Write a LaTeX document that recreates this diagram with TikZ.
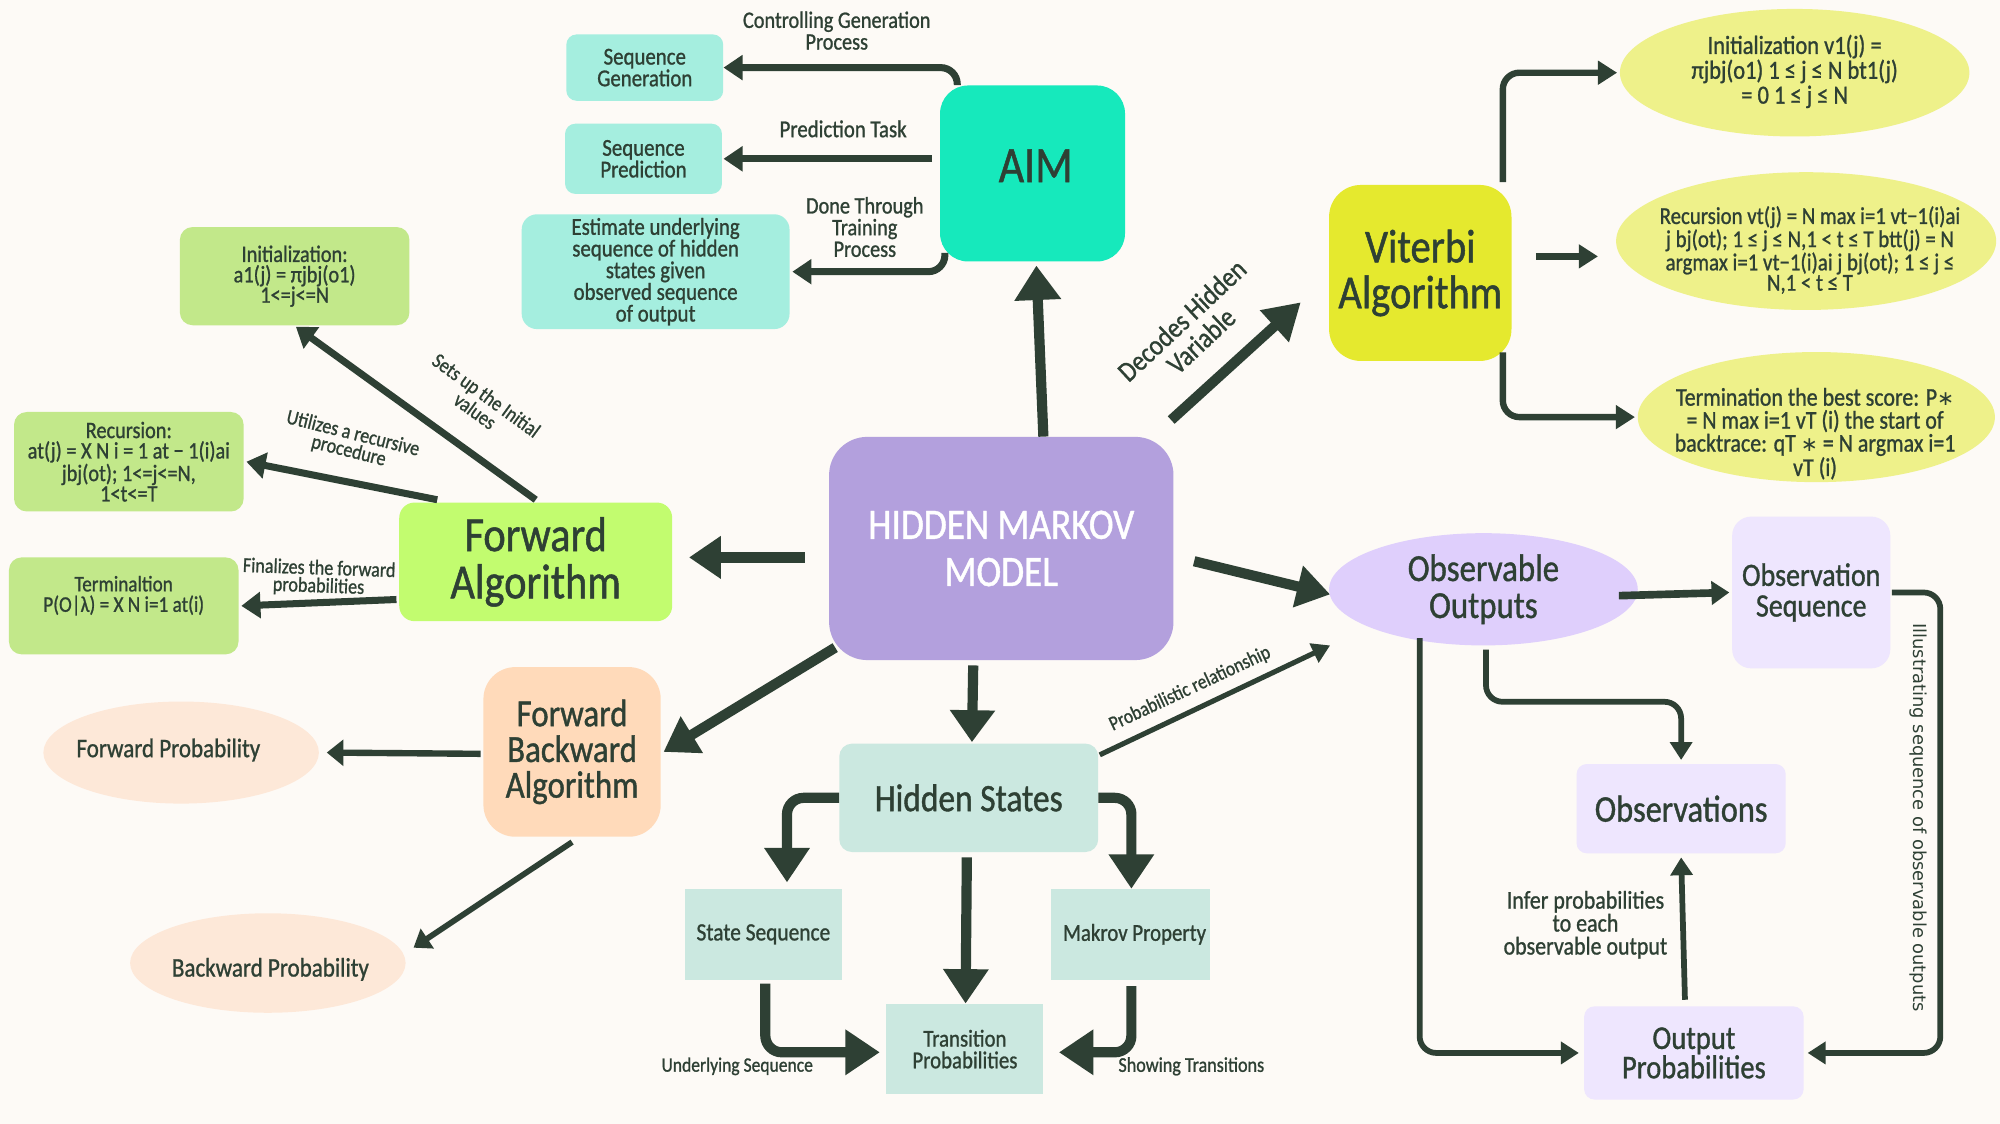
\documentclass[tikz,border=0pt]{standalone}
\usepackage{fontspec}
\setmainfont{Carlito}[FakeStretch=0.86,FakeBold=1]
\newfontfamily\ilfont{DejaVu Sans}
\usetikzlibrary{arrows.meta,shapes.geometric,calc}
\definecolor{bgc}{HTML}{FDFAF6}
\definecolor{ink}{HTML}{2E4034}
\definecolor{hmmc}{HTML}{B3A0DD}
\definecolor{aimc}{HTML}{16E9BC}
\definecolor{aimsub}{HTML}{A5EEDF}
\definecolor{vitc}{HTML}{E5E92E}
\definecolor{vitsub}{HTML}{EEF18A}
\definecolor{fwdc}{HTML}{C2FC6F}
\definecolor{fwdsub}{HTML}{C2E88A}
\definecolor{fbc}{HTML}{FFDABA}
\definecolor{fbsub}{HTML}{FDE8D8}
\definecolor{hsc}{HTML}{CBE8E0}
\definecolor{ooc}{HTML}{DFCFFC}
\definecolor{oosub}{HTML}{EEE6FE}
\newcommand\fsz[2]{\fontsize{#1pt}{#2pt}\selectfont}
\begin{document}
\begin{tikzpicture}[x=1pt,y=-1pt,
  box/.style={inner sep=0pt, align=center, text=ink, rounded corners=#1},
  box/.default=10pt,
  oval/.style={ellipse, inner sep=0pt, align=center, text=ink},
  lbl/.style={inner sep=0pt, align=center, text=ink},
  arr/.style n args={3}{draw=ink, line width=#1, -{Triangle[length=#2,width=#3]}},
  elbow/.style={rounded corners=13pt}
]
\fill[bgc] (0,0) rectangle (1568,881);
\useasboundingbox (0,0) rectangle (1568,881);

% ---------- central node
\node[box=30pt, fill=hmmc, minimum width=270pt, minimum height=175pt, text=white, font=\fsz{34}{37}] (hmm) at (785,430) {HIDDEN MARKOV\\MODEL};

% ---------- AIM branch
\node[box=22pt, fill=aimc, minimum width=145pt, minimum height=138pt] (aim) at (809.5,136) {};
\node[lbl, font=\fsz{40}{40}] (aimt) at (812,130) {AIM};
\node[box=8pt, fill=aimsub, minimum width=123pt, minimum height=52pt, font=\fsz{19}{17}] (seqgen) at (505.5,53) {Sequence\\Generation};
\node[box=8pt, fill=aimsub, minimum width=123pt, minimum height=55pt, font=\fsz{19}{17}] (seqpred) at (504.5,124.5) {Sequence\\Prediction};
\node[box=12pt, fill=aimsub, minimum width=210pt, minimum height=90pt, font=\fsz{19}{17}] (est) at (514,213) {Estimate underlying\\sequence of hidden\\states given\\observed sequence\\of output};

% ---------- Viterbi branch
\node[box=25pt, fill=vitc, minimum width=143pt, minimum height=138pt, font=\fsz{37}{36}] (vit) at (1113.5,214) {Viterbi\\Algorithm};
\node[oval, fill=vitsub, minimum width=274pt, minimum height=100pt] (e1) at (1407,57) {};
\node[lbl, font=\fsz{20.5}{19.5}] (e1t) at (1407,56) {Initialization v1(j) =\\πjbj(o1) 1 ≤ j ≤ N bt1(j)\\= 0 1 ≤ j ≤ N};
\node[oval, fill=vitsub, minimum width=298pt, minimum height=108pt] (e2) at (1416,189) {};
\node[lbl, font=\fsz{19}{16}] (e2t) at (1419,196) {Recursion vt(j) = N max i=1 vt−1(i)ai\\j bj(ot); 1 ≤ j ≤ N,1 < t ≤ T btt(j) = N\\argmax i=1 vt−1(i)ai j bj(ot); 1 ≤ j ≤\\N,1 < t ≤ T};
\node[oval, fill=vitsub, minimum width=280pt, minimum height=102pt] (e3) at (1424,327) {};
\node[lbl, font=\fsz{20}{18}] (e3t) at (1423,340) {Termination the best score: P{\ilfont\fsz{16}{18}∗}\\= N max i=1 vT (i) the start of\\backtrace: qT {\ilfont\fsz{16}{18}∗} = N argmax i=1\\vT (i)};

% ---------- Forward algorithm branch
\node[box=12pt, fill=fwdc, minimum width=214pt, minimum height=93pt, font=\fsz{38.5}{37}] (fwd) at (420,440.5) {Forward\\Algorithm};
\node[box=10pt, fill=fwdsub, minimum width=180pt, minimum height=77pt, font=\fsz{18.5}{16}] (init) at (231,216.5) {Initialization:\\a1(j) = πjbj(o1)\\1<=j<=N};
\node[box=10pt, fill=fwdsub, minimum width=180pt, minimum height=78pt, font=\fsz{18.5}{16}] (rec) at (101,362) {Recursion:\\at(j) = X N i = 1 at − 1(i)ai\\jbj(ot); 1<=j<=N,\\1<t<=T};
\node[box=10pt, fill=fwdsub, minimum width=180pt, minimum height=76pt] (term) at (97,475) {};
\node[lbl, font=\fsz{17.5}{16}] (termt) at (97,467) {Terminaltion\\P(O|λ) = X N i=1 at(i)};

% ---------- Forward backward branch
\node[box=25pt, fill=fbc, minimum width=139pt, minimum height=133pt, font=\fsz{30}{28}] (fb) at (448.5,589.5) {Forward\\Backward\\Algorithm};
\node[oval, fill=fbsub, minimum width=216pt, minimum height=80pt] (fprob) at (142,590) {};
\node[lbl, font=\fsz{21}{18}] (fprobt) at (132,588) {Forward Probability};
\node[oval, fill=fbsub, minimum width=216pt, minimum height=78pt] (bprob) at (210,755) {};
\node[lbl, font=\fsz{21}{18}] (bprobt) at (212,760) {Backward Probability};

% ---------- Hidden states branch
\node[box=10pt, fill=hsc, minimum width=203pt, minimum height=85pt, font=\fsz{30.5}{28}] (hs) at (759.5,625.5) {Hidden States};
\node[box=0pt, fill=hsc, minimum width=123pt, minimum height=71pt, font=\fsz{19.5}{16}] (ss) at (598.5,732.5) {State Sequence};
\node[box=0pt, fill=hsc, minimum width=125pt, minimum height=71pt, font=\fsz{19}{16}] (mp) at (886.5,732.5) {\hspace*{6pt}Makrov Property};
\node[box=0pt, fill=hsc, minimum width=123pt, minimum height=71pt, font=\fsz{19}{17}] (tp) at (756.5,822.5) {Transition\\Probabilities};

% ---------- Observable outputs branch
\node[oval, fill=ooc, minimum width=242pt, minimum height=88pt, font=\fsz{30}{29}] (oo) at (1163,462) {Observable\\Outputs};
\node[box=15pt, fill=oosub, minimum width=124pt, minimum height=119pt, font=\fsz{25.5}{24}] (os) at (1420,464.5) {Observation\\Sequence};
\node[box=8pt, fill=oosub, minimum width=164pt, minimum height=70pt, font=\fsz{29.5}{24}] (obs) at (1318,634) {Observations};
\node[box=8pt, fill=oosub, minimum width=172pt, minimum height=73pt, font=\fsz{26}{23}] (op) at (1328,825.5) {Output\\Probabilities};

% ---------- connectors from the centre
\draw[arr={8pt}{27pt}{35pt}] ([xshift=33pt]hmm.north) -- ([xshift=3pt,yshift=-3pt]aim.south);
\draw[arr={8pt}{28pt}{32pt}] ([xshift=-2pt,yshift=13pt]hmm.north east) -- ([xshift=-22pt,yshift=-23pt]vit.west);
\draw[arr={8pt}{25pt}{32pt}] ([xshift=-19pt,yshift=-7pt]hmm.west) -- ([xshift=13pt,yshift=3.5pt]fwd.east);
\draw[arr={8pt}{26pt}{32pt}] ([xshift=5pt,yshift=10pt]hmm.south west) -- ([xshift=2pt]fb.east);
\draw[arr={8pt}{25pt}{34pt}] ([xshift=-22pt,yshift=-4pt]hmm.south) -- ([xshift=2.5pt,yshift=1pt]hs.north);
\draw[arr={8pt}{26pt}{32pt}] ([xshift=16pt,yshift=-10pt]hmm.east) -- ([xshift=1pt,yshift=-4pt]oo.west);

% ---------- AIM connectors
\draw[arr={5.5pt}{15pt}{19pt}, elbow] ([xshift=-59pt]aim.north) |- (seqgen.east);
\draw[arr={5.5pt}{15pt}{19pt}] ([xshift=-6pt]aim.west |- seqpred.east) -- ([xshift=1pt]seqpred.east);
\draw[arr={5.5pt}{15pt}{19pt}, elbow] ([xshift=4pt,yshift=7pt]aim.south west) |- ([xshift=2pt]est.east);
\node[lbl, font=\fsz{18.5}{17}] (l1) at (656,24) {Controlling Generation\\Process};
\node[lbl, font=\fsz{19}{17}] (l2) at (661,101) {Prediction Task};
\node[lbl, font=\fsz{18.5}{17}] (l3) at (678,178) {Done Through\\Training\\Process};

% ---------- Viterbi connectors
\draw[arr={5pt}{15pt}{18pt}, elbow] ([xshift=-7pt,yshift=2pt]vit.north east) |- ([xshift=-2pt]e1.west);
\draw[arr={5pt}{15pt}{18pt}] ([xshift=19pt,yshift=13pt]vit.east) -- ([xshift=-14pt,yshift=-12pt]e2.west);
\draw[arr={5pt}{15pt}{18pt}, elbow] ([xshift=-7pt,yshift=7pt]vit.south east) |- ([xshift=-2pt]e3.west);
\node[lbl, font=\fsz{22.5}{22}, rotate=43] (l4) at (934,259) {Decodes Hidden\\Variable};

% ---------- Forward connectors
\draw[arr={5.5pt}{15pt}{20pt}] ([yshift=2pt]fwd.north) -- ([xshift=1pt,yshift=-1pt]init.south);
\draw[arr={5.5pt}{15pt}{20pt}] ([xshift=30pt,yshift=2pt]fwd.north west) -- ([xshift=2pt]rec.east);
\draw[arr={5.5pt}{15pt}{20pt}] ([xshift=-2pt,yshift=-29.5pt]fwd.west) -- ([xshift=2pt]term.east);
\node[lbl, font=\fsz{16.5}{14}, rotate=-36] (l5) at (377,316) {Sets up the Initial\\values};
\node[lbl, font=\fsz{16.5}{14}, rotate=-14] (l6) at (275,347) {Utilizes a recursive\\procedure};
\node[lbl, font=\fsz{16.5}{14}, rotate=-2] (l7) at (250,453) {Finalizes the forward\\probabilities};

% ---------- Forward backward connectors
\draw[arr={5pt}{13pt}{20pt}] ([xshift=-2pt,yshift=-1.5pt]fb.west) -- ([xshift=6pt]fprob.east);
\draw[arr={4.5pt}{13pt}{18pt}] ([yshift=-4pt]fb.south) -- ([xshift=6pt,yshift=12pt]bprob.east);

% ---------- Hidden states connectors
\draw[arr={8pt}{27pt}{34pt}, elbow] (hs.west) -| ([xshift=18.5pt,yshift=5pt]ss.north);
\draw[arr={8pt}{27pt}{34pt}, elbow] (hs.east) -| ([xshift=0.5pt]mp.north);
\draw[arr={8pt}{27pt}{34pt}] ([xshift=-1.5pt,yshift=-4pt]hs.south) -- ([xshift=0.5pt]tp.north);
\draw[arr={8pt}{27pt}{34pt}, elbow] ([xshift=1.5pt,yshift=-3pt]ss.south) |- ([xshift=-5pt,yshift=-2.5pt]tp.west);
\draw[arr={8pt}{27pt}{34pt}, elbow] ([xshift=0.5pt,yshift=-5pt]mp.south) |- ([xshift=12pt,yshift=-2.5pt]tp.east);
\draw[arr={4pt}{14pt}{16pt}] ([xshift=1pt,yshift=-9pt]hs.north east) -- ([xshift=1pt,yshift=-44pt]oo.west);
\node[lbl, font=\fsz{16}{14}] (l8) at (578,836) {Underlying Sequence};
\node[lbl, font=\fsz{16.5}{14}] (l9) at (934,836) {Showing Transitions};
\node[lbl, font=\fsz{16}{13}, rotate=25] (l10) at (933,540) {Probabilistic relationship};

% ---------- Observable outputs connectors
\draw[arr={6pt}{14pt}{18pt}] ([xshift=-15pt,yshift=-5pt]oo.east) -- ([xshift=-2pt]os.west);
\draw[arr={4.5pt}{14pt}{17pt}, elbow] ([xshift=1pt]os.east) -- ++(38,0) |- ([xshift=3pt]op.east);
\draw[arr={4.5pt}{14pt}{17pt}, elbow] ([xshift=2pt,yshift=-3pt]oo.south) -- ++(0,41) -| ([yshift=3pt]obs.north);
\draw[arr={4.5pt}{14pt}{17pt}, elbow] ([xshift=-50pt,yshift=6pt]oo.south) |- ([xshift=-4pt]op.west);
\draw[arr={4.5pt}{14pt}{17pt}] ([xshift=-7pt,yshift=5pt]op.north) -- ([yshift=-3pt]obs.south);
\node[lbl, font=\fsz{20}{18}] (l11) at (1243,725) {Infer probabilities\\to each\\observable output};
\node[lbl, font={\ilfont\fsz{14}{15}}, rotate=-90] (l12) at (1504,641) {Illustrating sequence of observable outputs};
\end{tikzpicture}
\end{document}
